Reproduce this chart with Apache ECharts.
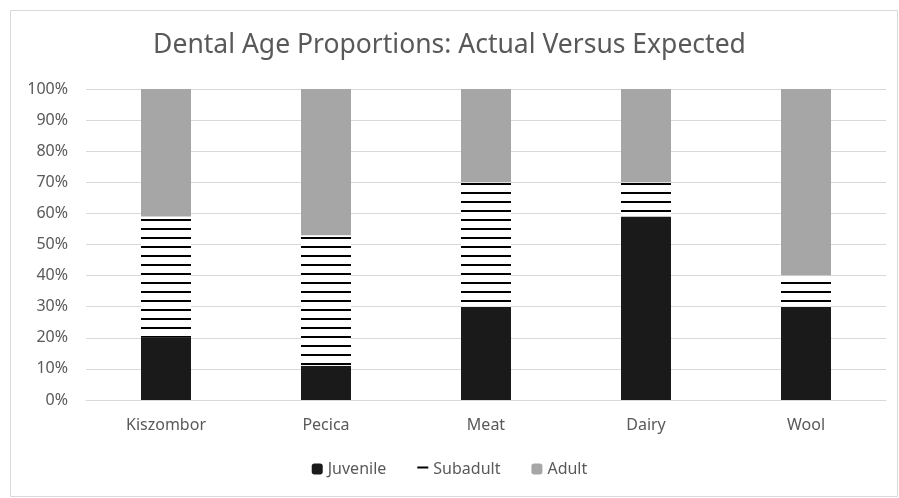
<!DOCTYPE html>
<html><head><meta charset="utf-8">
<script src="https://cdn.jsdelivr.net/npm/echarts@6/dist/echarts.min.js"></script>
<style>html,body{margin:0;padding:0;background:#fff}#c{width:899px;height:498px}</style>
</head><body><div id="c"></div>
<script>
const categories = ['Kiszombor', 'Pecica', 'Meat', 'Dairy', 'Wool'];
const juvenile = [20, 11, 30, 59, 30];
const subadult = [39, 42, 40, 11, 10];
const adult = [41, 47, 30, 30, 60];
const yTicks = [0, 10, 20, 30, 40, 50, 60, 70, 80, 90, 100];

const pc = document.createElement('canvas');
pc.width = 8; pc.height = 9;
const ctx = pc.getContext('2d');
ctx.fillStyle = '#ffffff'; ctx.fillRect(0, 0, 8, 9);
ctx.fillStyle = '#000000'; ctx.fillRect(0, 3, 8, 2);
const stripe = { image: pc, repeat: 'repeat' };

const chart = echarts.init(document.getElementById('c'), null, { renderer: 'canvas' });
const font = 'Noto Sans';
chart.setOption({
  animation: false,
  backgroundColor: '#fff',
  title: {
    text: 'Dental Age Proportions: Actual Versus Expected',
    left: 'center', top: 27,
    textStyle: { fontFamily: font, fontSize: 26.5, fontWeight: 'normal', color: '#595959' }
  },
  graphic: [{ type: 'rect', shape: { x: 10.5, y: 10.5, width: 887, height: 486 }, style: { fill: 'none', stroke: '#d9d9d9', lineWidth: 1 } }],
  legend: {
    bottom: 16, left: 'center', itemWidth: 11, itemHeight: 11, itemGap: 31,
    textStyle: { fontFamily: font, fontSize: 16, color: '#595959' },
    data: ['Juvenile', 'Subadult', 'Adult']
  },
  grid: { left: 86, right: 13, top: 89, bottom: 98 },
  xAxis: {
    type: 'category', data: categories,
    axisLine: { lineStyle: { color: '#d9d9d9' } }, axisTick: { show: false },
    axisLabel: { fontFamily: font, fontSize: 16, color: '#595959', margin: 17 }
  },
  yAxis: {
    type: 'value', min: 0, max: 100, interval: 10,
    axisLabel: { fontFamily: font, fontSize: 16, color: '#595959', formatter: v => yTicks.includes(v) ? v + '%' : '', margin: 18 },
    splitLine: { lineStyle: { color: '#d9d9d9' } }
  },
  series: [
    { name: 'Juvenile', type: 'bar', stack: 's', data: juvenile, barCategoryGap: '68.75%', itemStyle: { color: '#1a1a1a' } },
    { name: 'Subadult', type: 'bar', stack: 's', data: subadult, itemStyle: { color: stripe } },
    { name: 'Adult', type: 'bar', stack: 's', data: adult, itemStyle: { color: '#a6a6a6' } }
  ]
});
</script></body></html>
